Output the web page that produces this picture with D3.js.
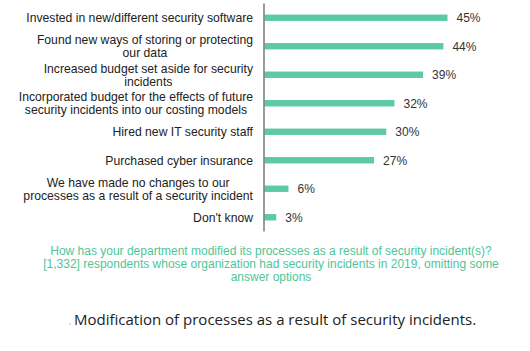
<!DOCTYPE html>
<html>
<head>
<meta charset="utf-8">
<script src="https://cdn.jsdelivr.net/npm/d3@7"></script>
<style>
  body { margin: 0; background: #fff; }
  svg { display: block; }
</style>
</head>
<body>
<script>
// sizes
var w = 530;
var h = 351;

// data
var categories = [
  ["Invested in new/different security software"],
  ["Found new ways of storing or protecting", "our data"],
  ["Increased budget set aside for security", "incidents"],
  ["Incorporated budget for the effects of future", "security incidents into our costing models"],
  ["Hired new IT security staff"],
  ["Purchased cyber insurance"],
  ["We have made no changes to our", "processes as a result of a security incident"],
  ["Don't know"]
];
var values = [45, 44, 39, 32, 30, 27, 6, 3];
var footnote = [
  "How has your department modified its processes as a result of security incident(s)?",
  "[1,332] respondents whose organization had security incidents in 2019, omitting some",
  "answer options"
];
var caption = "Modification of processes as a result of security incidents.";

var green = "#5dcaa5";
var axisX = 264;

var svg = d3.select("body").append("svg").attr("width", w).attr("height", h);

var xScale = d3.scaleLinear().domain([0, 45]).range([axisX, 447.5]);
var yScale = d3.scaleBand()
  .domain(d3.range(values.length))
  .range([3.5, 231.5]);

// bars
svg.selectAll("rect.bar")
  .data(values)
  .enter()
  .append("rect")
  .attr("class", "bar")
  .attr("x", xScale(0))
  .attr("y", function (d, i) { return yScale(i) + yScale.bandwidth() / 2 - 3.2; })
  .attr("width", function (d) { return xScale(d) - xScale(0); })
  .attr("height", 6.4)
  .attr("fill", green);

// value labels
svg.selectAll("text.val")
  .data(values)
  .enter()
  .append("text")
  .attr("class", "val")
  .attr("x", function (d) { return xScale(d) + 9; })
  .attr("y", function (d, i) { return yScale(i) + yScale.bandwidth() / 2; })
  .attr("dy", "0.36em")
  .attr("font-family", "Liberation Sans, Arial, sans-serif")
  .attr("font-size", 12)
  .attr("fill", "#333")
  .text(function (d) { return d + "%"; });

// axis line
svg.append("line")
  .attr("x1", axisX).attr("x2", axisX)
  .attr("y1", yScale.range()[0]).attr("y2", yScale.range()[1])
  .attr("stroke", "#7f8486")
  .attr("stroke-width", 1.6);

// category labels: block right aligned, lines centered in the block
var lineH = 13;
categories.forEach(function (lines, i) {
  var g = svg.append("g");
  var cy = yScale(i) + yScale.bandwidth() / 2;
  var texts = g.selectAll("text")
    .data(lines)
    .enter()
    .append("text")
    .attr("font-family", "Liberation Sans, Arial, sans-serif")
    .attr("font-size", 12.2)
    .attr("fill", "#222")
    .attr("text-anchor", "middle")
    .attr("y", function (d, j) { return cy + (j - (lines.length - 1) / 2) * lineH; })
    .attr("dy", "0.36em")
    .text(function (d) { return d; });
  var maxW = d3.max(texts.nodes(), function (n) { return n.getComputedTextLength(); });
  texts.attr("x", 253 - maxW / 2);
});

// footnote
svg.selectAll("text.foot")
  .data(footnote)
  .enter()
  .append("text")
  .attr("class", "foot")
  .attr("x", 271)
  .attr("y", function (d, i) { return 251 + i * 13; })
  .attr("dy", "0.36em")
  .attr("text-anchor", "middle")
  .attr("font-family", "Liberation Sans, Arial, sans-serif")
  .attr("font-size", 12)
  .attr("fill", "#4fc596")
  .text(function (d) { return d; });

// caption
svg.append("text")
  .attr("x", 68)
  .attr("y", 320)
  .attr("dy", "0.36em")
  .attr("font-family", "Open Sans, sans-serif")
  .attr("font-size", 15)
  .attr("fill", "#ccc")
  .text(".");
svg.append("text")
  .attr("x", 74)
  .attr("y", 320)
  .attr("dy", "0.36em")
  .attr("font-family", "Open Sans, sans-serif")
  .attr("font-size", 15)
  .attr("fill", "#222")
  .text(caption);
</script>
</body>
</html>
